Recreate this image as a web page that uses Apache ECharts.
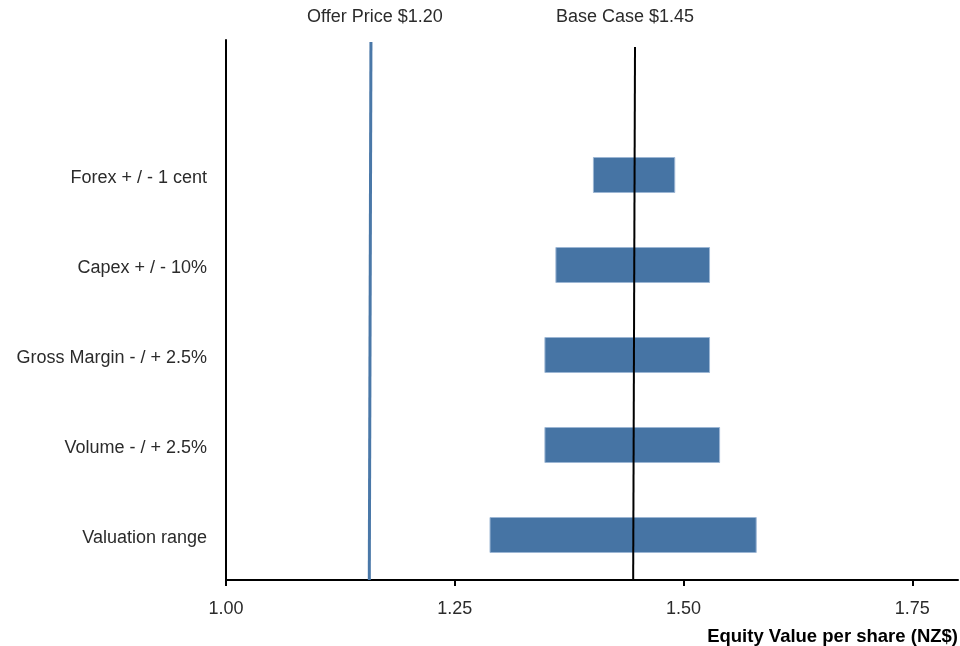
<!DOCTYPE html>
<html>
<head>
<meta charset="utf-8">
<script src="https://cdn.jsdelivr.net/npm/echarts@6/dist/echarts.min.js"></script>
<style>html,body{margin:0;padding:0;background:#fff}#c{width:960px;height:646px}</style>
</head>
<body>
<div id="c"></div>
<script>
// Categories bottom to top (top slot left empty)
const categories = ['Valuation range', 'Volume - / + 2.5%', 'Gross Margin - / + 2.5%', 'Capex + / - 10%', 'Forex + / - 1 cent', ''];
const lowValues  = [1.288, 1.348, 1.348, 1.360, 1.401, null];
const highValues = [1.580, 1.540, 1.529, 1.529, 1.491, null];
const xTicks = [1.00, 1.25, 1.50, 1.75];
// reference lines: [x at top, y frac top], [x at bottom, y frac bottom]
const offerLine = [[1.1584, 0.9963], [1.1566, 0]];
const baseLine  = [[1.4470, 0.9870], [1.4450, 0]];
const offerLabel = 'Offer Price $1.20';
const baseLabel = 'Base Case $1.45';
const xAxisTitle = 'Equity Value per share (NZ$)';

const FONT = '"Liberation Sans", Arial, sans-serif';
const TXT = '#2b2b2b';
const rangeValues = lowValues.map((l, i) => (l == null ? null : +(highValues[i] - l).toFixed(4)));

const chart = echarts.init(document.getElementById('c'), null, {renderer: 'canvas'});
chart.setOption({
  animation: false,
  backgroundColor: '#fff',
  grid: {left: 226, right: 2, top: 40, bottom: 66, containLabel: false, outerBoundsMode: 'none'},
  xAxis: {
    type: 'value', min: 1.0, max: 1.8,
    axisLine: {show: true, lineStyle: {color: '#000', width: 2}},
    axisTick: {show: true, length: 6, customValues: xTicks, lineStyle: {color: '#000', width: 2}},
    axisLabel: {customValues: xTicks, formatter: v => v.toFixed(2), color: TXT, fontSize: 18, fontFamily: FONT, margin: 20},
    splitLine: {show: false},
    name: xAxisTitle, nameLocation: 'end', nameGap: 0, nameMoveOverlap: false,
    nameTextStyle: {align: 'right', verticalAlign: 'top', padding: [47, 0, 0, 0], fontWeight: 'bold', fontSize: 18.5, color: '#000', fontFamily: FONT}
  },
  yAxis: [{
    type: 'category', data: categories,
    axisLine: {show: true, lineStyle: {color: '#000', width: 2}},
    axisTick: {show: false},
    axisLabel: {color: TXT, fontSize: 18, fontFamily: FONT, margin: 19,
      formatter: v => '{a|' + v + '}',
      rich: {a: {color: TXT, fontSize: 18, fontFamily: FONT, padding: [6, 0, 0, 0]}}}
  }, {
    type: 'value', min: 0, max: 1, show: false
  }],
  series: [
    {type: 'bar', stack: 'r', data: lowValues, barWidth: 36, itemStyle: {color: 'transparent'}, silent: true},
    {type: 'bar', stack: 'r', data: rangeValues, barWidth: 36,
     itemStyle: {color: '#4674a4', borderColor: '#9cb6d4', borderWidth: 1}},
    {type: 'line', yAxisIndex: 1, data: offerLine, symbol: 'none', z: 5,
     lineStyle: {color: '#4a78a8', width: 3},
     markPoint: {symbol: 'circle', symbolSize: 0, itemStyle: {color: 'transparent'},
       data: [{coord: offerLine[0], label: {show: true, formatter: offerLabel, position: 'top', distance: 16, offset: [4, 0], color: TXT, fontSize: 18, fontFamily: FONT}}]}},
    {type: 'line', yAxisIndex: 1, data: baseLine, symbol: 'none', z: 5,
     lineStyle: {color: '#000', width: 2},
     markPoint: {symbol: 'circle', symbolSize: 0, itemStyle: {color: 'transparent'},
       data: [{coord: baseLine[0], label: {show: true, formatter: baseLabel, position: 'top', distance: 21, offset: [-10, 0], color: TXT, fontSize: 18, fontFamily: FONT}}]}}
  ]
});
</script>
</body>
</html>
